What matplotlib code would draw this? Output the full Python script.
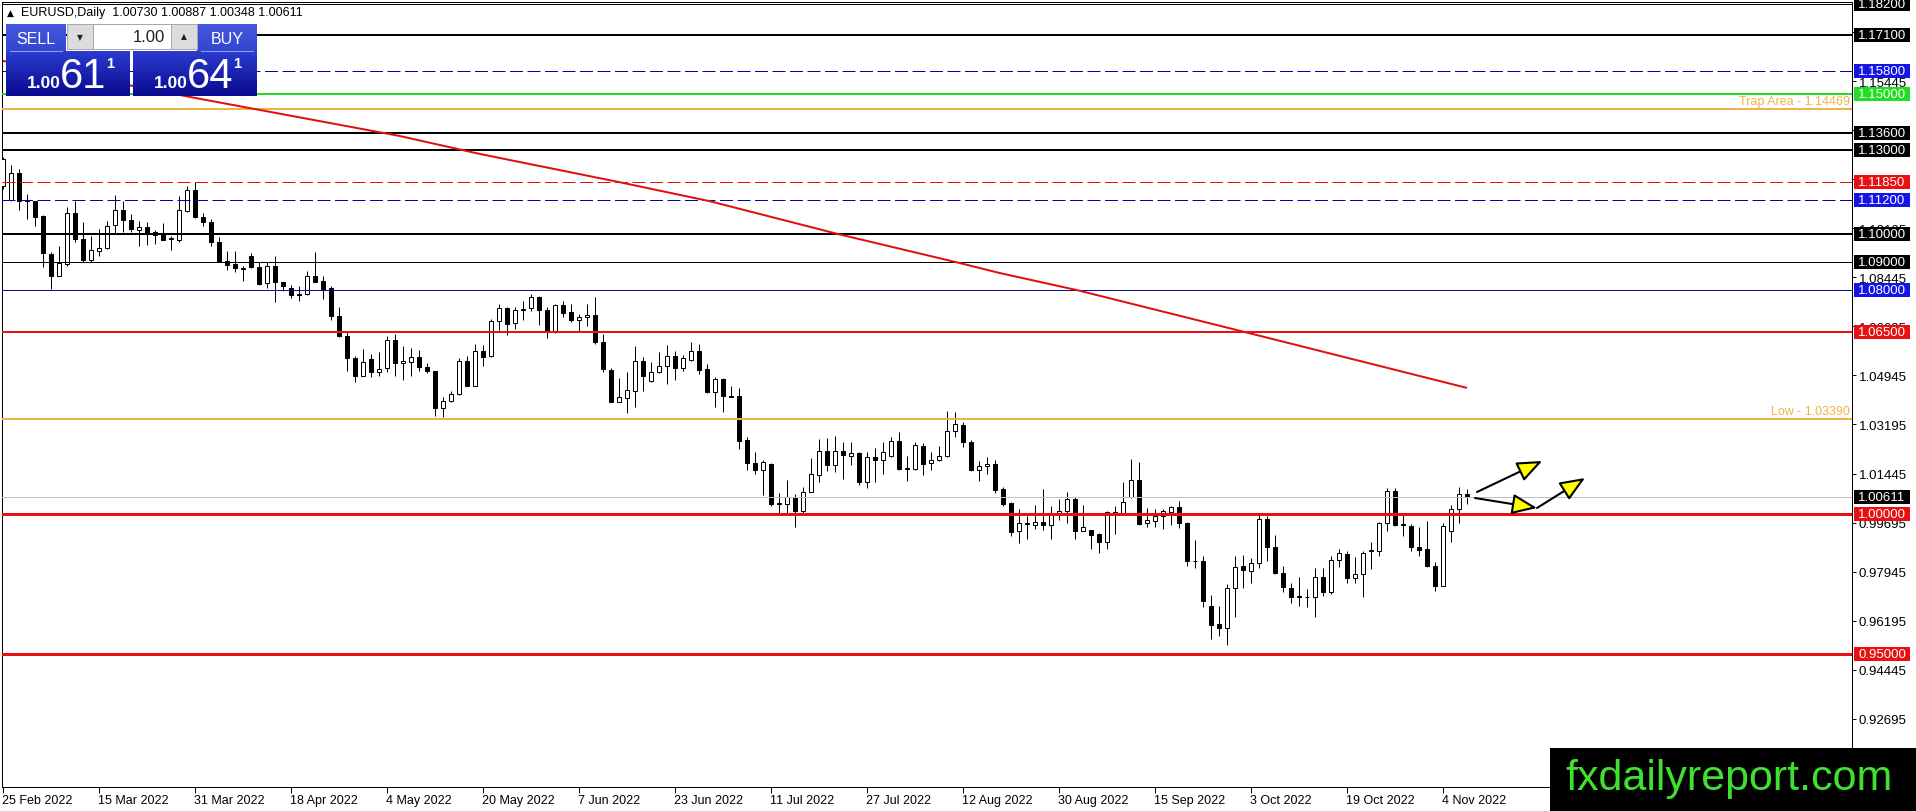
import numpy as np
import matplotlib
matplotlib.use('Agg')
import matplotlib.pyplot as plt
from matplotlib.patches import Rectangle
from matplotlib.transforms import blended_transform_factory

plt.rcParams['font.family'] = ['Liberation Sans', 'DejaVu Sans']

# daily candles EURUSD, 25 Feb 2022 .. 9 Nov 2022
opens = [1.1170, 1.1122, 1.1216, 1.1118, 1.1116, 1.1065, 1.0928, 1.0851, 1.0892, 1.1074,
         1.0981, 1.0908, 1.0940, 1.0948, 1.1031, 1.1086, 1.1049, 1.1015, 1.1025, 1.1005,
         1.0996, 1.0984, 1.0979, 1.1083, 1.1156, 1.1061, 1.1043, 1.0970, 1.0902, 1.0891,
         1.0876, 1.0920, 1.0883, 1.0823, 1.0886, 1.0827, 1.0807, 1.0784, 1.0784, 1.0848,
         1.0830, 1.0805, 1.0708, 1.0634, 1.0557, 1.0494, 1.0553, 1.0506, 1.0520, 1.0620,
         1.0539, 1.0541, 1.0559, 1.0526, 1.0509, 1.0377, 1.0402, 1.0428, 1.0545, 1.0458,
         1.0580, 1.0563, 1.0688, 1.0734, 1.0680, 1.0728, 1.0734, 1.0776, 1.0729, 1.0652,
         1.0746, 1.0720, 1.0694, 1.0702, 1.0711, 1.0613, 1.0514, 1.0401, 1.0413, 1.0440,
         1.0547, 1.0473, 1.0508, 1.0529, 1.0565, 1.0520, 1.0551, 1.0583, 1.0517, 1.0437,
         1.0482, 1.0422, 1.0420, 1.0264, 1.0181, 1.0158, 1.0178, 1.0036, 1.0035, 1.0060,
         1.0012, 1.0080, 1.0139, 1.0224, 1.0175, 1.0226, 1.0208, 1.0218, 1.0113, 1.0202,
         1.0194, 1.0208, 1.0259, 1.0161, 1.0161, 1.0242, 1.0181, 1.0194, 1.0208, 1.0297,
         1.0318, 1.0256, 1.0158, 1.0170, 1.0178, 1.0089, 1.0038, 0.9938, 0.9968, 0.9962,
         0.9970, 0.9962, 0.9996, 1.0012, 1.0053, 0.9941, 0.9943, 0.9929, 0.9901, 1.0004,
         1.0004, 1.0059, 1.0121, 0.9967, 0.9976, 0.9994, 1.0008, 1.0024, 0.9968, 0.9834,
         0.9833, 0.9670, 0.9607, 0.9592, 0.9735, 0.9813, 0.9795, 0.9824, 0.9982, 0.9881,
         0.9789, 0.9735, 0.9706, 0.9704, 0.9703, 0.9774, 0.9723, 0.9837, 0.9857, 0.9771,
         0.9786, 0.9869, 0.9869, 0.9968, 1.0081, 0.9964, 0.9958, 0.9883, 0.9875, 0.9815,
         0.9744, 0.9938, 1.0018, 1.00730]
highs = [1.1275, 1.1246, 1.1231, 1.1142, 1.1118, 1.1067, 1.0934, 1.0955, 1.1094, 1.1118,
         1.1041, 1.0991, 1.1017, 1.1045, 1.1138, 1.1116, 1.1071, 1.1047, 1.1041, 1.1015,
         1.1037, 1.0993, 1.1136, 1.1169, 1.1184, 1.1074, 1.1053, 1.0987, 1.0937, 1.0937,
         1.0886, 1.0932, 1.0901, 1.0901, 1.0920, 1.0827, 1.0818, 1.0815, 1.0866, 1.0934,
         1.0848, 1.0815, 1.0737, 1.0648, 1.0565, 1.0589, 1.0571, 1.0579, 1.0634, 1.0642,
         1.0598, 1.0591, 1.0585, 1.0539, 1.0512, 1.0416, 1.0440, 1.0555, 1.0563, 1.0607,
         1.0604, 1.0696, 1.0749, 1.0738, 1.0738, 1.0761, 1.0785, 1.0779, 1.0738, 1.0749,
         1.0761, 1.0749, 1.0714, 1.0749, 1.0773, 1.0642, 1.0520, 1.0484, 1.0506, 1.0598,
         1.0559, 1.0544, 1.0579, 1.0603, 1.0583, 1.0568, 1.0613, 1.0607, 1.0535, 1.0488,
         1.0486, 1.0458, 1.0448, 1.0274, 1.0220, 1.0193, 1.0182, 1.0075, 1.0123, 1.0071,
         1.0095, 1.0200, 1.0268, 1.0270, 1.0277, 1.0256, 1.0256, 1.0222, 1.0222, 1.0234,
         1.0256, 1.0274, 1.0291, 1.0208, 1.0256, 1.0254, 1.0220, 1.0244, 1.0366, 1.0363,
         1.0327, 1.0265, 1.0190, 1.0202, 1.0193, 1.0095, 1.0044, 1.0018, 0.9994, 1.0032,
         1.0089, 1.0027, 1.0053, 1.0077, 1.0059, 1.0032, 0.9944, 0.9932, 1.0009, 1.0030,
         1.0113, 1.0196, 1.0187, 1.0020, 1.0018, 1.0018, 1.0030, 1.0048, 0.9973, 0.9907,
         0.9849, 0.9711, 0.9673, 0.9750, 0.9851, 0.9854, 0.9842, 0.9996, 0.9994, 0.9925,
         0.9815, 0.9754, 0.9774, 0.9732, 0.9806, 0.9806, 0.9851, 0.9875, 0.9869, 0.9845,
         0.9869, 0.9899, 0.9973, 1.0092, 1.0092, 0.9996, 0.9964, 0.9952, 0.9976, 0.9827,
         0.9968, 1.0032, 1.0095, 1.00887]
lows = [1.1160, 1.1118, 1.1086, 1.1053, 1.1029, 1.0883, 1.0803, 1.0848, 1.0886, 1.0972,
        1.0901, 1.0901, 1.0922, 1.0946, 1.0999, 1.1005, 1.1005, 1.0958, 1.0960, 1.0964,
        1.0978, 1.0942, 1.0970, 1.1079, 1.1055, 1.1027, 1.0958, 1.0898, 1.0872, 1.0862,
        1.0833, 1.0877, 1.0818, 1.0807, 1.0755, 1.0795, 1.0770, 1.0759, 1.0782, 1.0827,
        1.0767, 1.0693, 1.0630, 1.0512, 1.0470, 1.0491, 1.0488, 1.0491, 1.0506, 1.0491,
        1.0480, 1.0494, 1.0512, 1.0503, 1.0351, 1.0347, 1.0401, 1.0426, 1.0458, 1.0456,
        1.0527, 1.0559, 1.0658, 1.0640, 1.0660, 1.0694, 1.0723, 1.0676, 1.0627, 1.0646,
        1.0702, 1.0684, 1.0654, 1.0670, 1.0607, 1.0506, 1.0399, 1.0399, 1.0360, 1.0381,
        1.0440, 1.0472, 1.0503, 1.0464, 1.0479, 1.0512, 1.0547, 1.0500, 1.0432, 1.0381,
        1.0365, 1.0416, 1.0232, 1.0157, 1.0143, 1.0068, 1.0030, 1.0000, 1.0000, 0.9952,
        1.0004, 1.0078, 1.0113, 1.0155, 1.0151, 1.0125, 1.0175, 1.0104, 1.0093, 1.0113,
        1.0143, 1.0202, 1.0158, 1.0119, 1.0158, 1.0139, 1.0158, 1.0190, 1.0202, 1.0274,
        1.0238, 1.0155, 1.0119, 1.0143, 1.0075, 1.0030, 0.9923, 0.9897, 0.9909, 0.9946,
        0.9943, 0.9911, 0.9980, 0.9968, 0.9909, 0.9938, 0.9875, 0.9861, 0.9875, 0.9929,
        1.0000, 1.0056, 0.9961, 0.9955, 0.9955, 0.9946, 0.9962, 0.9950, 0.9813, 0.9806,
        0.9667, 0.9554, 0.9566, 0.9534, 0.9634, 0.9735, 0.9753, 0.9806, 0.9833, 0.9786,
        0.9723, 0.9681, 0.9670, 0.9667, 0.9631, 0.9709, 0.9714, 0.9810, 0.9754, 0.9753,
        0.9703, 0.9804, 0.9849, 0.9941, 0.9958, 0.9923, 0.9869, 0.9851, 0.9810, 0.9726,
        0.9742, 0.9901, 0.9968, 1.00348]
closes = [1.1268, 1.1216, 1.1118, 1.1120, 1.1061, 1.0930, 1.0851, 1.0896, 1.1074, 1.0981,
          1.0908, 1.0941, 1.0948, 1.1029, 1.1086, 1.1049, 1.1017, 1.1025, 1.1002, 1.0996,
          1.0979, 1.0981, 1.1085, 1.1156, 1.1061, 1.1043, 1.0970, 1.0901, 1.0890, 1.0877,
          1.0877, 1.0880, 1.0821, 1.0886, 1.0827, 1.0813, 1.0782, 1.0782, 1.0848, 1.0829,
          1.0801, 1.0708, 1.0634, 1.0555, 1.0494, 1.0541, 1.0506, 1.0518, 1.0620, 1.0538,
          1.0547, 1.0559, 1.0526, 1.0509, 1.0377, 1.0404, 1.0428, 1.0545, 1.0458, 1.0580,
          1.0559, 1.0688, 1.0734, 1.0678, 1.0728, 1.0730, 1.0776, 1.0729, 1.0652, 1.0746,
          1.0716, 1.0694, 1.0702, 1.0711, 1.0615, 1.0517, 1.0401, 1.0416, 1.0444, 1.0547,
          1.0491, 1.0508, 1.0529, 1.0565, 1.0520, 1.0556, 1.0583, 1.0515, 1.0437, 1.0482,
          1.0422, 1.0419, 1.0262, 1.0181, 1.0158, 1.0184, 1.0036, 1.0038, 1.0060, 1.0012,
          1.0077, 1.0143, 1.0224, 1.0175, 1.0226, 1.0212, 1.0218, 1.0115, 1.0202, 1.0194,
          1.0220, 1.0259, 1.0161, 1.0163, 1.0246, 1.0178, 1.0194, 1.0208, 1.0297, 1.0321,
          1.0256, 1.0158, 1.0170, 1.0178, 1.0087, 1.0036, 0.9937, 0.9968, 0.9964, 0.9970,
          0.9962, 0.9996, 1.0012, 1.0053, 0.9941, 0.9952, 0.9926, 0.9901, 1.0006, 1.0006,
          1.0042, 1.0121, 0.9964, 0.9979, 0.9994, 1.0012, 1.0024, 0.9967, 0.9833, 0.9832,
          0.9688, 0.9605, 0.9592, 0.9735, 0.9812, 0.9801, 0.9824, 0.9982, 0.9883, 0.9788,
          0.9738, 0.9703, 0.9704, 0.9702, 0.9774, 0.9720, 0.9837, 0.9861, 0.9771, 0.9786,
          0.9861, 0.9871, 0.9968, 1.0081, 0.9961, 0.9962, 0.9881, 0.9873, 0.9813, 0.9744,
          0.9958, 1.0018, 1.0071, 1.00611]

date_labels = ['25 Feb 2022', '15 Mar 2022', '31 Mar 2022', '18 Apr 2022', '4 May 2022',
               '20 May 2022', '7 Jun 2022', '23 Jun 2022', '11 Jul 2022', '27 Jul 2022',
               '12 Aug 2022', '30 Aug 2022', '15 Sep 2022', '3 Oct 2022', '19 Oct 2022',
               '4 Nov 2022']
date_bars = list(range(0, 181, 12))

# moving average, sampled along the red curve (bar index, price)
ma_bars = [0, 24, 49.6, 59.6, 77.1, 88.4, 104.4, 119.25, 124.6, 134.25, 155, 183]
ma_vals = [1.1617, 1.1485, 1.1349, 1.1285, 1.1184, 1.1116, 1.0999, 1.0898, 1.0860,
           1.0799, 1.0651, 1.0450]

# horizontal levels: price, colour, width(px), style, tag colour
levels = [
    (1.18200, '#000000', 1, '-', '#000000'),
    (1.17100, '#000000', 2, '-', '#000000'),
    (1.15800, '#0000b4', 1, '--', '#1414e6'),
    (1.15000, '#22dd22', 2, '-', '#22dd22'),
    (1.14469, '#f2b24a', 2, '-', None),
    (1.13600, '#000000', 2, '-', '#000000'),
    (1.13000, '#000000', 2, '-', '#000000'),
    (1.11850, '#e01010', 1, '--', '#e81010'),
    (1.11200, '#0000b4', 1, '--', '#1414e6'),
    (1.10000, '#000000', 2, '-', '#000000'),
    (1.09000, '#000000', 1, '-', '#000000'),
    (1.08000, '#0a0aa0', 1, '-', '#1414e6'),
    (1.06500, '#e81010', 2, '-', '#e81010'),
    (1.03390, '#f2b24a', 2, '-', None),
    (1.00611, '#c0c0c0', 1, '-', '#000000'),
    (1.00000, '#e81010', 3, '-', '#e81010'),
    (0.95000, '#e81010', 3, '-', '#e81010'),
]
level_notes = [(1.14469, 'Trap Area - 1.14469'), (1.03390, 'Low - 1.03390')]

price_ticks = [0.92695 + 0.0175 * k for k in range(15)]

# hand drawn arrows (bar index, price)
arrows = [((184.25, 1.00785), (192.4, 1.01891)),
          ((184.0, 1.00571), (191.75, 1.00214)),
          ((191.75, 1.00214), (197.75, 1.01285))]

W, H = 1916, 812
PX = 0.72  # points per pixel at dpi 100
fig = plt.figure(figsize=(W / 100, H / 100), dpi=100)
fig.patch.set_facecolor('white')

ax_l, ax_r, ax_t, ax_b = 2, 1852, 3, 788
ax = fig.add_axes([ax_l / W, (H - ax_b) / H, (ax_r - ax_l) / W, (ax_b - ax_t) / H])
bar_px = 8.0
x0 = (ax_l - 3) / bar_px
x1 = (ax_r - 3) / bar_px
ppu = 2802.0
ylo = 1.0 - (ax_b - 515) / ppu
yhi = 1.0 + (515 - ax_t) / ppu
ax.set_xlim(x0, x1)
ax.set_ylim(ylo, yhi)

o = np.array(opens)
h = np.array(highs)
l = np.array(lows)
c = np.array(closes)
idx = np.arange(len(o))

# candles
ax.vlines(idx, l, h, color='black', lw=1 * PX, zorder=3)
body_lo = np.minimum(o, c)
body_h = np.maximum(np.abs(c - o), 0.00012)
face = np.where(c >= o, 'white', 'black')
ax.bar(idx, body_h, bottom=body_lo, width=0.52, color=face, edgecolor='black',
       linewidth=1 * PX, zorder=4)

# levels
for p, col, lw, ls, tag in levels:
    if ls == '--':
        ax.axhline(p, color=col, lw=lw * PX, dashes=(13, 4.5), zorder=5)
    else:
        ax.axhline(p, color=col, lw=lw * PX, zorder=5)

# moving average
ax.plot(ma_bars, ma_vals, color='#e01010', lw=2 * PX, zorder=6, solid_capstyle='butt')

for p, txt in level_notes:
    ax.text(x1 - 0.3, p + 0.0006, txt, color='#f2b24a', fontsize=9, ha='right',
            va='bottom', zorder=7)

# arrows
for (sx, sy), (ex, ey) in arrows:
    ax.annotate('', xy=(ex, ey), xytext=(sx, sy),
                arrowprops=dict(arrowstyle='-|>,head_length=1.1,head_width=0.45',
                                fc='#ffff00', ec='black', lw=1.5, shrinkA=0, shrinkB=0,
                                mutation_scale=14), zorder=8)

# axes look
for s in ax.spines.values():
    s.set_linewidth(1 * PX)
    s.set_color('black')
ax.yaxis.tick_right()
ax.set_yticks(price_ticks)
ax.set_yticklabels(['%.5f' % t for t in price_ticks])
ax.tick_params(axis='y', direction='out', length=3, width=0.7, pad=2, labelsize=9.5)
ax.set_xticks(date_bars)
ax.set_xticklabels([])
ax.tick_params(axis='x', direction='out', length=4, width=0.7)
trans_x = blended_transform_factory(ax.transData, ax.transAxes)
for b, lab in zip(date_bars, date_labels):
    ax.text(b - 0.1, -0.0085, lab, transform=trans_x, ha='left', va='top', fontsize=9,
            clip_on=False)

# price tags on the scale
trans_y = blended_transform_factory(ax.transAxes, ax.transData)
tag_x0 = (1854 - ax_l) / (ax_r - ax_l)
tag_w = 56 / (ax_r - ax_l)
tag_h = 14 / ppu
for p, col, lw, ls, tag in levels:
    if tag is None:
        continue
    ax.add_patch(Rectangle((tag_x0, p - tag_h / 2), tag_w, tag_h, transform=trans_y,
                           facecolor=tag, edgecolor='none', clip_on=False, zorder=10))
    ax.text(tag_x0 + tag_w / 2, p, '%.5f' % p, transform=trans_y, color='white',
            fontsize=9.5, ha='center', va='center', clip_on=False, zorder=11)

# overlay in pixel coordinates: header, trade panel, watermark
ov = fig.add_axes([0, 0, 1, 1])
ov.set_autoscale_on(False)
ov.set_xlim(0, W)
ov.set_ylim(H, 0)
ov.axis('off')
ov.patch.set_alpha(0)

ov.text(7, 13, '\u25b2', fontsize=6.5, va='center', ha='left', color='black',
        family=['DejaVu Sans'])
ov.text(21, 13, 'EURUSD,Daily  1.00730 1.00887 1.00348 1.00611', fontsize=9,
        va='center', ha='left', color='black')


def grad(x_a, x_b, y_a, y_b, c_top, c_bot):
    t = np.linspace(0, 1, 64)[:, None, None]
    ct = np.array(matplotlib.colors.to_rgb(c_top))[None, None, :]
    cb = np.array(matplotlib.colors.to_rgb(c_bot))[None, None, :]
    img = ct * (1 - t) + cb * t
    ov.imshow(img, extent=[x_a, x_b, y_b, y_a], aspect='auto', interpolation='bilinear',
              zorder=20)


# SELL / BUY headers
grad(6, 66, 25, 52, '#4658dc', '#3246d2')
grad(197, 257, 25, 52, '#4658dc', '#3246d2')
# big price boxes
grad(6, 130, 52, 97, '#2a3cd0', '#0a0a8e')
grad(133, 257, 52, 97, '#2a3cd0', '#0a0a8e')
ov.plot([10, 62], [52, 52], color='#8ea0ea', lw=1 * PX, zorder=21)
ov.plot([201, 253], [52, 52], color='#8ea0ea', lw=1 * PX, zorder=21)
# lot spinner
ov.add_patch(Rectangle((67, 25), 130, 25, facecolor='white', edgecolor='#a8a8a8',
                       lw=1 * PX, zorder=21))
ov.add_patch(Rectangle((67, 25), 26, 25, facecolor='#dcdcdc', edgecolor='#a8a8a8',
                       lw=1 * PX, zorder=22))
ov.add_patch(Rectangle((171, 25), 26, 25, facecolor='#dcdcdc', edgecolor='#a8a8a8',
                       lw=1 * PX, zorder=22))
ov.text(80, 38, '\u25bc', fontsize=5.5, ha='center', va='center', color='#202020',
        family=['DejaVu Sans'], zorder=23)
ov.text(184, 37, '\u25b2', fontsize=5.5, ha='center', va='center', color='#202020',
        family=['DejaVu Sans'], zorder=23)
ov.text(165, 38, '1.00', fontsize=12, ha='right', va='center', color='#202020', zorder=23)
ov.text(36, 39, 'SELL', fontsize=11.5, ha='center', va='center', color='white', zorder=23)
ov.text(227, 39, 'BUY', fontsize=11.5, ha='center', va='center', color='white', zorder=23)
for bx, big in [(0, '61'), (127, '64')]:
    ov.text(bx + 27, 88, '1.00', fontsize=12.5, fontweight='bold', ha='left',
            va='baseline', color='white', zorder=23)
    ov.text(bx + 60, 88, big, fontsize=30, ha='left', va='baseline', color='white',
            zorder=23)
    ov.text(bx + 106, 68, '1', fontsize=10.5, fontweight='bold', ha='left',
            va='baseline', color='white', zorder=23)

# watermark
ov.add_patch(Rectangle((1550, 749), W - 1550, H - 749, facecolor='black',
                       edgecolor='none', zorder=30))
ov.text(1729, 790, 'fxdailyreport.com', fontsize=31, color='#3fe030', ha='center',
        va='baseline', zorder=31)

fig.savefig('out.png', dpi=100, facecolor='white')
